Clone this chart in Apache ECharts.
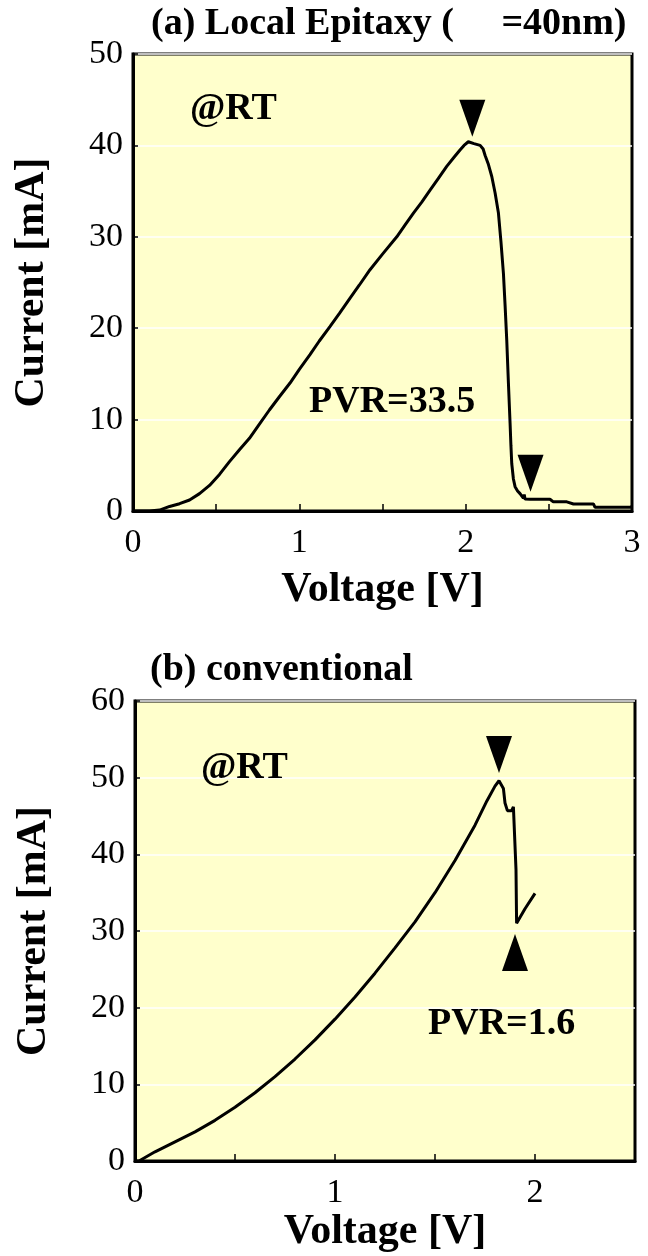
<!DOCTYPE html>
<html>
<head>
<meta charset="utf-8">
<script src="https://cdn.jsdelivr.net/npm/echarts@6/dist/echarts.min.js"></script>
<style>
  html, body { margin: 0; padding: 0; background: #ffffff; }
  #chart { width: 648px; height: 1256px; }
</style>
</head>
<body>
<div id="chart"></div>
<script>
// (a) Local epitaxy: I-V sweep at room temperature
const voltageA = [0, 0.10, 0.16, 0.22, 0.28, 0.34, 0.40, 0.46, 0.52, 0.58, 0.64, 0.70, 0.76, 0.82, 0.88,
  0.944, 1.00, 1.064, 1.12, 1.185, 1.24, 1.305, 1.36, 1.425, 1.50, 1.586, 1.636, 1.686, 1.736, 1.786,
  1.836, 1.886, 1.93, 1.966, 1.99, 2.016, 2.05, 2.087, 2.105, 2.117, 2.137, 2.157, 2.177, 2.197, 2.212,
  2.227, 2.237, 2.247, 2.257, 2.267, 2.272, 2.277, 2.287, 2.297, 2.312, 2.327, 2.337, 2.347, 2.352,
  2.357, 2.367, 2.387, 2.45, 2.507, 2.527, 2.608, 2.648, 2.768, 2.778, 2.99, 3.0];
const currentA = [0, 0, 0.1, 0.5, 0.8, 1.2, 1.9, 2.8, 4.0, 5.4, 6.7, 7.95, 9.5, 11.05, 12.5,
  14.0, 15.5, 17.1, 18.6, 20.2, 21.6, 23.3, 24.7, 26.4, 28.1, 30.0, 31.3, 32.6, 33.8, 35.1,
  36.4, 37.7, 38.7, 39.5, 40.0, 40.4, 40.2, 40.0, 39.6, 38.9, 37.9, 36.6, 34.8, 32.6, 29.5,
  26.0, 22.5, 18.7, 14.0, 9.6, 7.2, 5.2, 3.5, 2.66, 2.2, 1.9, 1.7, 1.4, 1.8,
  1.3, 1.28, 1.28, 1.28, 1.28, 1.0, 1.0, 0.77, 0.77, 0.4, 0.4, 0.5];

// (b) Conventional structure
const voltageB = [0, 0.02, 0.1, 0.2, 0.3, 0.4, 0.5, 0.6, 0.7, 0.8, 0.9, 1.0, 1.1, 1.2, 1.3, 1.4, 1.5,
  1.6, 1.7, 1.76, 1.8, 1.82, 1.842, 1.85, 1.862, 1.883, 1.892, 1.902, 1.905, 1.908, 1.95, 2.0];
const currentB = [0, 0, 1.2, 2.5, 3.8, 5.3, 7.0, 8.9, 11.0, 13.3, 15.8, 18.5, 21.4, 24.5, 27.8, 31.2, 35.0,
  39.2, 43.8, 47.0, 48.9, 49.6, 48.6, 46.7, 45.7, 45.7, 46.2, 46.2, 38.0, 31.0, 32.9, 34.9];

// Arrow tips pointing at peak and valley currents
const peakTipsA = [[2.04, 40.95], [2.39, 2.1]];
const peakTipsB = [[1.82, 50.6]];
const valleyTipsB = [[1.90, 29.6]];

// Axis ranges and tick labels
const xTicksA = ['0', '1', '2', '3'];
const xTicksB = ['0', '1', '2'];
const yMaxA = 50, yMaxB = 60;
const xMaxA = 3, xMaxB = 2.5;

const SERIF = '"Liberation Serif", "Times New Roman", serif';
const pairs = (xs, ys) => xs.map((x, i) => [x, ys[i]]);
const downTri = 'path://M0,0 L26,0 L13,37 Z';
const upTri = 'path://M13,0 L26,37 L0,37 Z';

function xAxisFor(gridIndex, xMax, ticks, nameGap) {
  return {
    type: 'value', gridIndex, min: 0, max: xMax, interval: 0.5,
    name: 'Voltage [V]', nameLocation: 'middle', nameGap,
    nameTextStyle: { fontFamily: SERIF, fontWeight: 'bold', fontSize: 42, color: '#000' },
    axisLine: { show: true, lineStyle: { color: '#000', width: 3 } },
    axisTick: { show: true, inside: true, length: 7, lineStyle: { color: '#000', width: 1.5 } },
    axisLabel: {
      fontFamily: SERIF, fontSize: 34, color: '#000', margin: 15,
      formatter: v => (Number.isInteger(v) ? ticks[v] : '')
    },
    splitLine: { show: false }
  };
}

function yAxisFor(gridIndex, yMax) {
  return {
    type: 'value', gridIndex, min: 0, max: yMax, interval: 10,
    name: 'Current [mA]', nameLocation: 'middle', nameGap: 80, nameRotate: 90,
    nameTextStyle: { fontFamily: SERIF, fontWeight: 'bold', fontSize: 42, color: '#000' },
    axisLine: { show: true, lineStyle: { color: '#000', width: 3 } },
    axisTick: { show: true, inside: true, length: 5, lineStyle: { color: '#000', width: 1.5 } },
    axisLabel: { fontFamily: SERIF, fontSize: 34, color: '#000', margin: 10 },
    splitLine: { show: true, lineStyle: { color: '#ffffff', width: 1.5 } }
  };
}

function label(text, x, y, size) {
  return {
    type: 'text', left: x, top: y - size * 0.6, z: 100,
    style: { text, fontFamily: SERIF, fontWeight: 'bold', fontSize: size, fill: '#000' }
  };
}

function marker(gridIndex, data, symbol, dy) {
  return {
    type: 'scatter', xAxisIndex: gridIndex, yAxisIndex: gridIndex, data,
    symbol, symbolSize: [26, 37], symbolOffset: [0, dy],
    itemStyle: { color: '#000', opacity: 1 }, z: 6
  };
}

const chart = echarts.init(document.getElementById('chart'), null, { renderer: 'canvas' });
chart.setOption({
  animation: false,
  backgroundColor: '#ffffff',
  grid: [
    { left: 133, top: 54, width: 499, height: 457, show: true, backgroundColor: '#FFFFCC', borderColor: '#000', borderWidth: 3 },
    { left: 135, top: 701, width: 500, height: 460, show: true, backgroundColor: '#FFFFCC', borderColor: '#000', borderWidth: 3 }
  ],
  xAxis: [xAxisFor(0, xMaxA, xTicksA, 58), xAxisFor(1, xMaxB, xTicksB, 50)],
  yAxis: [yAxisFor(0, yMaxA), yAxisFor(1, yMaxB)],
  series: [
    {
      type: 'line', xAxisIndex: 0, yAxisIndex: 0, data: pairs(voltageA, currentA),
      showSymbol: false, lineStyle: { color: '#000', width: 3 }, z: 5
    },
    {
      type: 'line', xAxisIndex: 1, yAxisIndex: 1, data: pairs(voltageB, currentB),
      showSymbol: false, lineStyle: { color: '#000', width: 3 }, z: 5
    },
    marker(0, peakTipsA, downTri, -18.5),
    marker(1, peakTipsB, downTri, -18.5),
    marker(1, valleyTipsB, upTri, 18.5)
  ],
  graphic: [
    label('(a) Local Epitaxy (     =40nm)', 151, 28, 38),
    label('(b) conventional', 150, 674, 38),
    label('@RT', 190, 113, 38),
    label('PVR=33.5', 309, 406, 38),
    label('@RT', 201, 772, 38),
    label('PVR=1.6', 428, 1028, 38)
  ]
});
</script>
</body>
</html>
